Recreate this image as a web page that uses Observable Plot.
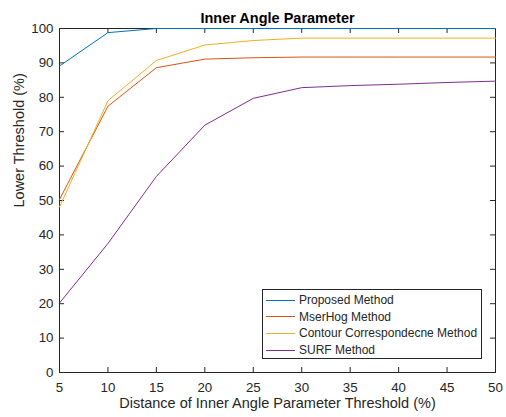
<!DOCTYPE html>
<html><head><meta charset="utf-8">
<script src="https://cdn.jsdelivr.net/npm/d3@7"></script>
<script src="https://cdn.jsdelivr.net/npm/@observablehq/plot@0.6"></script>
<style>
body{margin:0;background:#fff;}
#wrap{position:relative;width:506px;height:417px;font-family:"Liberation Sans",Arial,sans-serif;color:#262626;}
#legend{position:absolute;left:262px;top:289px;width:220px;height:70px;border:1px solid #262626;background:#fff;box-sizing:border-box;padding-top:2px;}
.row{height:16.6px;display:flex;align-items:center;font-size:12px;}
.sw{width:29px;height:0;border-top:1.2px solid;margin-left:3px;margin-right:4px;}
</style></head>
<body><div id="wrap"><div id="chart"></div><div id="legend"></div></div>
<script>
const title = "Inner Angle Parameter";
const xLabel = "Distance of Inner Angle Parameter Threshold (%)";
const yLabel = "Lower Threshold (%)";
const xValues = [5, 10, 15, 20, 25, 30, 35, 40, 45, 50];
const seriesNames = ["Proposed Method", "MserHog Method", "Contour Correspondecne Method", "SURF Method"];
const seriesColors = ["#0072BD", "#D95319", "#EDB120", "#7E2F8E"];
const proposed = [89.1, 98.8, 100, 100, 100, 100, 100, 100, 100, 100];
const mserHog  = [50.3, 77.4, 88.6, 91.1, 91.5, 91.7, 91.7, 91.7, 91.7, 91.7];
const contour  = [48.1, 79.0, 90.7, 95.2, 96.5, 97.2, 97.2, 97.2, 97.2, 97.2];
const surf     = [20.2, 37.5, 57.0, 71.9, 79.7, 82.8, 83.4, 83.8, 84.3, 84.7];
const xTicks = [5, 10, 15, 20, 25, 30, 35, 40, 45, 50];
const yTicks = [0, 10, 20, 30, 40, 50, 60, 70, 80, 90, 100];

const allSeries = [proposed, mserHog, contour, surf];
const rows = [];
allSeries.forEach((vals, i) => vals.forEach((v, j) => rows.push({x: xValues[j], y: v, s: seriesNames[i]})));

const ink = "#262626";
const xTickLen = 0.52, yTickLen = 1.45;

const chart = Plot.plot({
  width: 506, height: 417,
  marginLeft: 59, marginRight: 11, marginTop: 28, marginBottom: 45,
  style: {fontFamily: '"Liberation Sans", Arial, sans-serif', color: ink, background: "#fff", overflow: "visible"},
  x: {domain: [5, 50], ticks: xTicks, label: null},
  y: {domain: [0, 100], ticks: yTicks, label: null},
  color: {domain: seriesNames, range: seriesColors},
  marks: [
    Plot.frame({stroke: ink, strokeWidth: 1}),
    Plot.ruleX(xTicks, {x: d => d, y1: 0, y2: yTickLen, stroke: ink}),
    Plot.ruleX(xTicks, {x: d => d, y1: 100, y2: 100 - yTickLen, stroke: ink}),
    Plot.ruleY(yTicks, {y: d => d, x1: 5, x2: 5 + xTickLen, stroke: ink}),
    Plot.ruleY(yTicks, {y: d => d, x1: 50, x2: 50 - xTickLen, stroke: ink}),
    Plot.axisX({ticks: xTicks, tickSize: 0, tickPadding: 10, fontSize: 13.3, label: null}),
    Plot.axisY({ticks: yTicks, tickSize: 0, tickPadding: 6, fontSize: 13.3, label: null}),
    Plot.line(rows, {x: "x", y: "y", z: "s", stroke: "s", strokeWidth: 1}),
    Plot.text([title], {frameAnchor: "top", dy: -15.5, fontSize: 14.5, fontWeight: "bold", fill: "#000"}),
    Plot.text([xLabel], {frameAnchor: "bottom", dy: 35, fontSize: 14.5, fill: ink}),
    Plot.text([yLabel], {frameAnchor: "left", dx: -40, dy: 7, rotate: -90, fontSize: 14.5, fill: ink})
  ]
});
document.getElementById("chart").appendChild(chart);

const legend = document.getElementById("legend");
seriesNames.forEach((n, i) => {
  const r = document.createElement("div"); r.className = "row";
  const sw = document.createElement("div"); sw.className = "sw"; sw.style.borderTopColor = seriesColors[i];
  const t = document.createElement("span"); t.textContent = n;
  r.appendChild(sw); r.appendChild(t); legend.appendChild(r);
});
</script></body></html>
